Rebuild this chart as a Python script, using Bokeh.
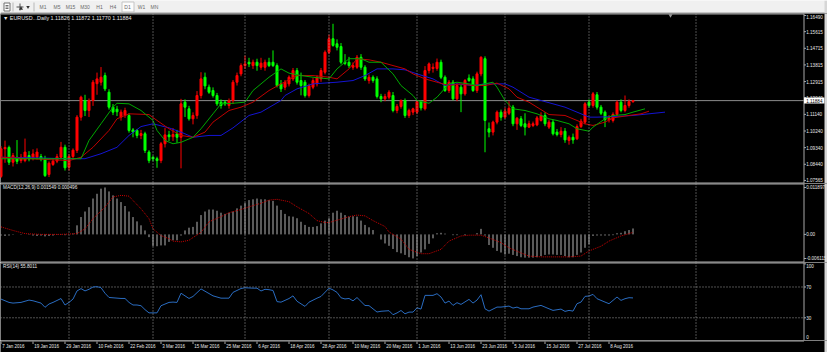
import numpy as np
from bokeh.plotting import figure
from bokeh.layouts import column
from bokeh.models import Range1d, Span
from bokeh.embed import file_html
from bokeh.resources import INLINE
from bokeh.core.properties import value

# ---------------- data ----------------
symbol_title = "\u25bc EURUSD...Daily  1.11826 1.11872 1.11770 1.11884"
macd_title = "MACD(12,26,9) 0.001549 0.000496"
rsi_title = "RSI(14) 55.8011"
timeframes = ["M1", "M5", "M15", "M30", "H1", "H4", "D1", "W1", "MN"]
timeframe_px = [42.5, 56.5, 70, 84.5, 99, 112.5, 127, 141, 154]

opens = [
    1.0778, 1.0928, 1.0935, 1.0855, 1.0882, 1.0864, 1.0864, 1.0891, 1.0879, 1.0882,
    1.0886, 1.0873, 1.0789, 1.0843, 1.0861, 1.0882, 1.0936, 1.0828, 1.0886, 1.0919,
    1.1099, 1.1189, 1.1135, 1.1189, 1.1280, 1.1288, 1.1324, 1.1234, 1.1153, 1.1142,
    1.1099, 1.1108, 1.1108, 1.1030, 1.1027, 1.1000, 1.1009, 1.0910, 1.0882, 1.0874,
    1.0864, 1.0955, 1.1003, 1.0993, 1.1009, 1.0990, 1.1180, 1.1144, 1.1090, 1.1108,
    1.1216, 1.1315, 1.1261, 1.1243, 1.1216, 1.1180, 1.1180, 1.1162, 1.1189, 1.1288,
    1.1333, 1.1378, 1.1396, 1.1378, 1.1396, 1.1369, 1.1369, 1.1396, 1.1396, 1.1378,
    1.1279, 1.1261, 1.1279, 1.1306, 1.1351, 1.1297, 1.1288, 1.1216, 1.1261, 1.1279,
    1.1306, 1.1342, 1.1450, 1.1523, 1.1496, 1.1481, 1.1396, 1.1396, 1.1369, 1.1369,
    1.1423, 1.1369, 1.1297, 1.1315, 1.1306, 1.1211, 1.1198, 1.1207, 1.1216, 1.1135,
    1.1157, 1.1189, 1.1108, 1.1126, 1.1126, 1.1183, 1.1144, 1.1351, 1.1362, 1.1362,
    1.1396, 1.1315, 1.1243, 1.1288, 1.1198, 1.1261, 1.1225, 1.1310, 1.1306, 1.1243,
    1.1333, 1.1415, 1.1036, 1.1018, 1.1072, 1.1126, 1.1099, 1.1120, 1.1153, 1.1063,
    1.1090, 1.1063, 1.1045, 1.1054, 1.1057, 1.1081, 1.1108, 1.1045, 1.1072, 1.1018,
    1.1005, 1.1023, 1.0973, 1.0990, 1.0982, 1.1048, 1.1072, 1.1180, 1.1162, 1.1220,
    1.1153, 1.1126, 1.1085, 1.1081, 1.1114, 1.1180, 1.1135, 1.1162, 1.11826,
]
highs = [
    1.0942, 1.0972, 1.0945, 1.0905, 1.0975, 1.0900, 1.0983, 1.0915, 1.0925, 1.0930,
    1.0900, 1.0890, 1.0860, 1.0875, 1.0900, 1.0965, 1.0950, 1.0900, 1.0930, 1.1110,
    1.1215, 1.1220, 1.1200, 1.1300, 1.1340, 1.1370, 1.1340, 1.1250, 1.1170, 1.1160,
    1.1140, 1.1150, 1.1120, 1.1040, 1.1035, 1.1030, 1.1020, 1.0920, 1.0890, 1.0885,
    1.0965, 1.1040, 1.1025, 1.1040, 1.1030, 1.1198, 1.1195, 1.1160, 1.1125, 1.1240,
    1.1342, 1.1340, 1.1275, 1.1260, 1.1230, 1.1195, 1.1190, 1.1200, 1.1300, 1.1340,
    1.1390, 1.1432, 1.1420, 1.1410, 1.1415, 1.1420, 1.1410, 1.1420, 1.1460, 1.1390,
    1.1300, 1.1300, 1.1325, 1.1365, 1.1365, 1.1340, 1.1300, 1.1280, 1.1310, 1.1325,
    1.1365, 1.1460, 1.1545, 1.1604, 1.1520, 1.1500, 1.1440, 1.1425, 1.1395, 1.1435,
    1.1440, 1.1380, 1.1330, 1.1325, 1.1320, 1.1225, 1.1225, 1.1245, 1.1235, 1.1170,
    1.1195, 1.1200, 1.1145, 1.1150, 1.1190, 1.1190, 1.1375, 1.1395, 1.1390, 1.1416,
    1.1410, 1.1325, 1.1300, 1.1300, 1.1285, 1.1275, 1.1305, 1.1330, 1.1320, 1.1345,
    1.1428, 1.1428, 1.1070, 1.1080, 1.1135, 1.1140, 1.1150, 1.1185, 1.1165, 1.1100,
    1.1105, 1.1120, 1.1080, 1.1075, 1.1105, 1.1125, 1.1125, 1.1085, 1.1085, 1.1035,
    1.1045, 1.1040, 1.1000, 1.1010, 1.1060, 1.1090, 1.1180, 1.1195, 1.1235, 1.1235,
    1.1165, 1.1135, 1.1110, 1.1125, 1.1190, 1.1195, 1.1216, 1.1195, 1.11884,
]
lows = [
    1.0770, 1.0852, 1.0840, 1.0832, 1.0845, 1.0850, 1.0855, 1.0860, 1.0865, 1.0870,
    1.0860, 1.0775, 1.0775, 1.0835, 1.0850, 1.0870, 1.0810, 1.0810, 1.0870, 1.0905,
    1.1080, 1.1105, 1.1100, 1.1160, 1.1220, 1.1270, 1.1240, 1.1140, 1.1110, 1.1105,
    1.1080, 1.1095, 1.1015, 1.0990, 1.0985, 1.0980, 1.0905, 1.0850, 1.0860, 1.0825,
    1.0850, 1.0935, 1.0970, 1.0970, 1.0960, 1.0822, 1.1100, 1.1080, 1.1060, 1.1090,
    1.1200, 1.1250, 1.1225, 1.1205, 1.1160, 1.1145, 1.1160, 1.1145, 1.1170, 1.1270,
    1.1320, 1.1360, 1.1370, 1.1360, 1.1350, 1.1355, 1.1350, 1.1370, 1.1370, 1.1260,
    1.1235, 1.1245, 1.1265, 1.1295, 1.1275, 1.1217, 1.1205, 1.1205, 1.1250, 1.1265,
    1.1290, 1.1330, 1.1440, 1.1480, 1.1460, 1.1385, 1.1380, 1.1365, 1.1355, 1.1360,
    1.1355, 1.1295, 1.1280, 1.1285, 1.1200, 1.1180, 1.1185, 1.1195, 1.1125, 1.1120,
    1.1145, 1.1095, 1.1095, 1.1110, 1.1115, 1.1135, 1.1135, 1.1335, 1.1340, 1.1350,
    1.1305, 1.1235, 1.1230, 1.1190, 1.1185, 1.1126, 1.1215, 1.1290, 1.1235, 1.1230,
    1.1320, 1.0909, 1.0990, 1.1000, 1.1060, 1.1080, 1.1090, 1.1110, 1.1050, 1.1030,
    1.1045, 1.1000, 1.1040, 1.1045, 1.1050, 1.1075, 1.1050, 1.1035, 1.1000, 1.0995,
    1.0990, 1.0960, 1.0950, 1.0955, 1.0975, 1.1040, 1.1060, 1.1150, 1.1150, 1.1140,
    1.1110, 1.1045, 1.1070, 1.1070, 1.1105, 1.1125, 1.1125, 1.1150, 1.11770,
]
closes = [
    1.0928, 1.0935, 1.0855, 1.0891, 1.0860, 1.0882, 1.0910, 1.0873, 1.0900, 1.0910,
    1.0872, 1.0783, 1.0850, 1.0861, 1.0885, 1.0936, 1.0825, 1.0886, 1.0920, 1.1099,
    1.1207, 1.1135, 1.1189, 1.1288, 1.1306, 1.1315, 1.1252, 1.1153, 1.1126, 1.1128,
    1.1126, 1.1135, 1.1027, 1.1018, 1.1000, 1.1010, 1.0919, 1.0864, 1.0873, 1.0864,
    1.0955, 1.1003, 1.0993, 1.1005, 1.0990, 1.1171, 1.1153, 1.1090, 1.1108, 1.1216,
    1.1306, 1.1268, 1.1234, 1.1216, 1.1171, 1.1162, 1.1171, 1.1189, 1.1288, 1.1324,
    1.1378, 1.1387, 1.1387, 1.1396, 1.1378, 1.1391, 1.1396, 1.1378, 1.1378, 1.1270,
    1.1252, 1.1288, 1.1315, 1.1351, 1.1288, 1.1270, 1.1216, 1.1270, 1.1297, 1.1315,
    1.1351, 1.1450, 1.1523, 1.1487, 1.1477, 1.1396, 1.1390, 1.1378, 1.1378, 1.1423,
    1.1369, 1.1306, 1.1315, 1.1297, 1.1211, 1.1198, 1.1211, 1.1234, 1.1135, 1.1157,
    1.1189, 1.1108, 1.1135, 1.1144, 1.1183, 1.1149, 1.1351, 1.1387, 1.1369, 1.1396,
    1.1315, 1.1243, 1.1288, 1.1198, 1.1270, 1.1225, 1.1297, 1.1297, 1.1243, 1.1333,
    1.1423, 1.1081, 1.1018, 1.1072, 1.1126, 1.1099, 1.1131, 1.1147, 1.1063, 1.1093,
    1.1054, 1.1045, 1.1063, 1.1063, 1.1095, 1.1108, 1.1063, 1.1072, 1.1009, 1.1005,
    1.1023, 1.0976, 1.0990, 1.0976, 1.1048, 1.1077, 1.1171, 1.1162, 1.1225, 1.1153,
    1.1120, 1.1085, 1.1095, 1.1114, 1.1180, 1.1135, 1.1162, 1.1183, 1.11884,
]
last_price = 1.11884
last_price_label = "1.11884"

# Alligator lines (bar index, price) - lips green, teeth red, jaw blue
lips_idx = [0, 20, 22, 25, 28, 29, 32, 35, 38, 39, 41, 43, 45, 48, 50, 53, 55, 58, 61, 63,
            67, 70, 72, 75, 78, 82, 84, 87, 90, 92, 95, 98, 100, 103, 104, 107, 109, 112, 114, 117,
            119, 123, 124, 126, 128, 131, 134, 137, 139, 142, 144, 147, 148, 151, 153, 156, 158, 161]
lips_val = [1.0874, 1.0874, 1.0973, 1.1063, 1.1153, 1.1174, 1.1171, 1.1135, 1.1081, 1.1027,
            1.0973, 1.0955, 1.0963, 1.0990, 1.1036, 1.1117, 1.1171, 1.1174, 1.1180, 1.1243,
            1.1315, 1.1360, 1.1337, 1.1324, 1.1315, 1.1306, 1.1360, 1.1415, 1.1415, 1.1396,
            1.1396, 1.1333, 1.1270, 1.1216, 1.1189, 1.1174, 1.1207, 1.1279, 1.1288, 1.1279,
            1.1270, 1.1288, 1.1261, 1.1189, 1.1144, 1.1135, 1.1117, 1.1090, 1.1081, 1.1063,
            1.1036, 1.1023, 1.1045, 1.1090, 1.1108, 1.1113, 1.1126, 1.1144]
teeth_idx = [0, 17, 20, 23, 27, 29, 32, 37, 39, 42, 45, 48, 51, 53, 57, 60, 63, 67, 70, 74,
             78, 82, 84, 87, 89, 92, 95, 98, 101, 103, 106, 109, 112, 115, 118, 121, 124, 127, 129, 132,
             134, 137, 141, 143, 146, 148, 151, 153, 157, 160, 162]
teeth_val = [1.0882, 1.0864, 1.0882, 1.0936, 1.1027, 1.1090, 1.1117, 1.1113, 1.1081, 1.1036,
             1.1000, 1.0990, 1.1018, 1.1072, 1.1135, 1.1153, 1.1180, 1.1243, 1.1279, 1.1324,
             1.1324, 1.1315, 1.1306, 1.1360, 1.1415, 1.1409, 1.1396, 1.1378, 1.1360, 1.1333,
             1.1306, 1.1288, 1.1270, 1.1279, 1.1270, 1.1270, 1.1283, 1.1252, 1.1207, 1.1180,
             1.1153, 1.1113, 1.1108, 1.1090, 1.1063, 1.1054, 1.1072, 1.1095, 1.1108, 1.1117,
             1.1131]
jaw_idx = [0, 8, 17, 21, 25, 29, 32, 35, 38, 42, 45, 48, 52, 55, 58, 62, 65, 70, 71, 74,
           78, 84, 88, 91, 94, 98, 101, 104, 108, 111, 114, 118, 121, 124, 126, 128, 132, 135, 138, 141,
           144, 147, 149, 153, 158, 166]
jaw_val = [1.0882, 1.0879, 1.0874, 1.0874, 1.0901, 1.0936, 1.1000, 1.1048, 1.1063, 1.1041,
           1.1018, 1.0990, 1.1000, 1.1000, 1.1041, 1.1108, 1.1126, 1.1189, 1.1216, 1.1252,
           1.1279, 1.1288, 1.1297, 1.1324, 1.1360, 1.1360, 1.1355, 1.1333, 1.1306, 1.1270,
           1.1279, 1.1270, 1.1279, 1.1279, 1.1279, 1.1261, 1.1207, 1.1189, 1.1171, 1.1153,
           1.1126, 1.1099, 1.1099, 1.1102, 1.1108, 1.1126]

# MACD histogram per bar, and signal line samples
macd_hist = [
    -0.0003, -0.0004, -0.0003, -0.0001, 0.0000, -0.0001, 0.0000, 0.0001, -0.0003, -0.0004,
    -0.0003, -0.0005, -0.0004, -0.0003, -0.0001, 0.0001, -0.0002, 0.0000, 0.0002, 0.0023,
    0.0044, 0.0058, 0.0069, 0.0091, 0.0103, 0.0116, 0.0119, 0.0109, 0.0099, 0.0091,
    0.0082, 0.0072, 0.0058, 0.0044, 0.0033, 0.0023, 0.0010, -0.0007, -0.0030, -0.0030,
    -0.0028, -0.0028, -0.0019, -0.0015, -0.0015, -0.0003, 0.0010, 0.0017, 0.0019, 0.0032,
    0.0049, 0.0058, 0.0063, 0.0063, 0.0060, 0.0055, 0.0052, 0.0055, 0.0058, 0.0066,
    0.0073, 0.0080, 0.0087, 0.0089, 0.0091, 0.0089, 0.0089, 0.0087, 0.0085, 0.0073,
    0.0062, 0.0052, 0.0046, 0.0045, 0.0041, 0.0032, 0.0024, 0.0019, 0.0019, 0.0021,
    0.0028, 0.0035, 0.0041, 0.0055, 0.0060, 0.0055, 0.0049, 0.0045, 0.0046, 0.0045,
    0.0035, 0.0024, 0.0018, 0.0011, 0.0000, -0.0013, -0.0023, -0.0029, -0.0037, -0.0045,
    -0.0048, -0.0052, -0.0058, -0.0061, -0.0055, -0.0046, -0.0038, -0.0024, -0.0010, 0.0003,
    0.0004, 0.0002, 0.0000, -0.0002, -0.0002, 0.0000, -0.0002, 0.0000, 0.0000, 0.0003,
    0.0014, -0.0003, -0.0027, -0.0034, -0.0042, -0.0046, -0.0051, -0.0049, -0.0052, -0.0055,
    -0.0058, -0.0059, -0.0059, -0.0059, -0.0058, -0.0055, -0.0052, -0.0051, -0.0051, -0.0052,
    -0.0052, -0.0055, -0.0058, -0.0058, -0.0052, -0.0046, -0.0034, -0.0025, -0.0004, -0.0003,
    -0.0003, -0.0003, -0.0003, -0.0002, 0.0003, 0.0004, 0.0008, 0.0011, 0.0015,
]
signal_idx = [0, 3, 6, 10, 15, 19, 21, 23, 26, 28, 30, 32, 33, 35, 37, 38, 40, 42, 43, 45,
              47, 48, 50, 52, 55, 57, 60, 62, 65, 67, 69, 72, 74, 77, 79, 81, 82, 84, 87, 89,
              91, 93, 96, 97, 100, 102, 105, 107, 110, 112, 115, 117, 120, 122, 125, 127, 130, 132, 135, 137,
              140, 142, 145, 147, 150, 152, 155, 158]
signal_val = [0.0019, 0.0010, 0.0002, 0.0000, 0.0000, 0.0002, 0.0014, 0.0040, 0.0069, 0.0095,
              0.0099, 0.0097, 0.0086, 0.0065, 0.0040, 0.0014, -0.0003, -0.0011, -0.0017, -0.0019,
              -0.0015, -0.0008, 0.0005, 0.0032, 0.0045, 0.0055, 0.0063, 0.0070, 0.0079, 0.0087,
              0.0089, 0.0083, 0.0070, 0.0053, 0.0035, 0.0030, 0.0030, 0.0036, 0.0045, 0.0049,
              0.0047, 0.0035, 0.0020, 0.0006, -0.0012, -0.0038, -0.0049, -0.0049, -0.0038, -0.0017,
              -0.0004, -0.0002, -0.0002, -0.0009, -0.0021, -0.0034, -0.0047, -0.0055, -0.0057, -0.0057,
              -0.0057, -0.0057, -0.0055, -0.0042, -0.0030, -0.0017, -0.0004, 0.0005]

# RSI(14) samples
rsi_idx = [0, 2, 3, 5, 7, 8, 10, 11, 12, 13, 15, 16, 17, 18, 19, 20, 21, 22, 23, 24,
           25, 26, 27, 30, 31, 32, 33, 34, 35, 36, 37, 39, 40, 42, 43, 44, 45, 46, 47, 48,
           50, 52, 53, 55, 57, 58, 60, 61, 63, 64, 65, 66, 67, 68, 69, 70, 72, 73, 74, 76,
           77, 79, 80, 82, 83, 84, 85, 86, 87, 88, 89, 91, 92, 94, 95, 97, 98, 99, 100, 101,
           102, 103, 104, 105, 106, 108, 109, 110, 111, 112, 113, 114, 115, 117, 118, 119, 120, 121, 122, 124,
           125, 127, 128, 129, 130, 132, 133, 135, 136, 137, 138, 140, 141, 142, 143, 144, 145, 146, 147, 148,
           149, 151, 152, 153, 154, 155, 156, 157, 158]
rsi_val = [54.3, 50.0, 49.1, 50.0, 53.0, 52.1, 49.1, 43.6, 47.9, 50.0, 55.0, 46.6, 50.0, 54.3, 64.9, 67.9, 64.9, 67.0, 70.0, 70.4,
           69.1, 61.9, 56.4, 55.1, 55.1, 50.0, 46.6, 46.6, 45.7, 40.6, 36.4, 36.4, 45.7, 50.0, 50.4, 50.0, 61.9, 58.5, 55.1, 57.7,
           67.5, 61.5, 58.5, 55.5, 55.5, 63.0, 68.0, 69.0, 68.5, 68.5, 64.8, 67.0, 66.5, 65.5, 51.0, 50.3, 55.0, 58.5, 51.5, 44.8,
           50.3, 55.5, 57.7, 68.5, 66.2, 63.0, 56.0, 54.5, 55.1, 52.0, 56.3, 46.0, 45.8, 37.5, 38.5, 39.2, 34.0, 36.3, 39.5, 35.2,
           37.4, 37.4, 43.0, 41.3, 59.1, 59.1, 61.3, 57.0, 49.1, 51.7, 46.1, 49.6, 47.4, 53.9, 49.1, 53.0, 60.0, 41.7, 38.7, 43.9,
           43.9, 45.2, 42.6, 43.9, 41.7, 41.7, 43.9, 46.1, 43.9, 41.7, 39.6, 41.3, 38.3, 39.6, 38.7, 48.3, 50.4, 57.8, 58.3, 60.4,
           54.8, 50.4, 48.3, 52.6, 57.0, 52.6, 54.8, 56.1, 55.8]
rsi_levels = [70, 30]

# axes
price_ticks = [1.16490, 1.15615, 1.14715, 1.13815, 1.12915, 1.12040, 1.11140, 1.10240, 1.09340, 1.08440, 1.07565]
price_tick_labels = ["1.16490", "1.15615", "1.14715", "1.13815", "1.12915", "1.12040",
                     "1.11140", "1.10240", "1.09340", "1.08440", "1.07565"]
macd_ticks = [0.011897, 0.0, -0.006115]
macd_tick_labels = ["0.011897", "0.00", "-0.006115"]
rsi_ticks = [100, 70, 30, 0]
rsi_tick_labels = ["100", "70", "30", "0"]
date_idx = [0, 8, 16, 24, 32, 40, 48, 56, 64, 72, 80, 88, 96, 104, 112, 120, 128, 136, 144, 152]
date_labels = ["7 Jan 2016", "19 Jan 2016", "29 Jan 2016", "10 Feb 2016", "22 Feb 2016", "3 Mar 2016",
               "15 Mar 2016", "25 Mar 2016", "6 Apr 2016", "18 Apr 2016", "28 Apr 2016", "10 May 2016",
               "20 May 2016", "1 Jun 2016", "13 Jun 2016", "23 Jun 2016", "5 Jul 2016", "15 Jul 2016",
               "27 Jul 2016", "8 Aug 2016"]
month_grid_idx = [17, 38, 61, 82, 104, 126, 147, 173.75]

# ---------------- layout / style ----------------
W = 827
BAR_PX = 4.0
X0 = -0.125
X1 = X0 + W / BAR_PX
AXIS_X = X0 + 803.5 / BAR_PX
STRIP_X = X0 + 824 / BAR_PX
FONT = value("Liberation Sans")
FS_AXIS = "4.6px"
FS_DATE = "4.5px"
FS_SUB = "4.7px"
FS_MAIN = "5.4px"
GRID_C = "#a0a0a0"
FRAME_C = "#a8a8a8"
LABEL_C = "#e8e8e8"
UP_C = "#ff0000"
DN_C = "#00ff00"


def make_panel(h, lo, hi):
    p = figure(width=W, height=h, x_range=Range1d(X0, X1), y_range=Range1d(lo, hi),
               x_axis_type=None, y_axis_type=None, min_border=0,
               toolbar_location=None, output_backend="svg",
               background_fill_color="black", border_fill_color="black",
               outline_line_color=None)
    return p


def decorate(p, lo, hi, h, top=True, bottom=True, grid=True):
    px = (hi - lo) / h
    p.quad(left=[STRIP_X], right=[X1], bottom=[lo], top=[hi], fill_color="#d6d6d6", line_color=None)
    if grid:
        for g in month_grid_idx:
            p.add_layout(Span(location=g, dimension="height", line_color=GRID_C,
                              line_dash="1 2", line_width=1))
    p.segment(x0=[AXIS_X], y0=[lo], x1=[AXIS_X], y1=[hi], line_color=FRAME_C, line_width=1)
    if top:
        p.segment(x0=[X0], y0=[hi - 0.5 * px], x1=[AXIS_X], y1=[hi - 0.5 * px],
                  line_color=FRAME_C, line_width=1)
    if bottom:
        p.segment(x0=[X0], y0=[lo + 0.5 * px], x1=[AXIS_X], y1=[lo + 0.5 * px],
                  line_color=FRAME_C, line_width=1)
    return px


def right_axis(p, ticks, labels, lo, hi, px):
    n = len(ticks)
    p.segment(x0=[AXIS_X] * n, y0=ticks, x1=[AXIS_X + 0.5] * n, y1=ticks, line_color=FRAME_C, line_width=1)
    for t, lab in zip(ticks, labels):
        # labels at the panel edges are nudged inside the panel (as the terminal does)
        y = min(max(t, lo + 3.2 * px), hi - 3.2 * px)
        p.text(x=[AXIS_X + 0.55], y=[y], text=[lab], text_font=FONT, text_font_size=FS_AXIS,
               text_color=LABEL_C, text_baseline="middle", text_align="left")


# ---- toolbar strip ----
tb = figure(width=W, height=13, x_range=Range1d(0, W), y_range=Range1d(0, 13),
            x_axis_type=None, y_axis_type=None, min_border=0, toolbar_location=None,
            output_backend="svg", background_fill_color="#f0f0f0", border_fill_color="#f0f0f0",
            outline_line_color=None)
tb.segment(x0=[0], y0=[0.5], x1=[W], y1=[0.5], line_color="#9a9a9a", line_width=1)
tb.quad(left=[3.5], right=[9.5], bottom=[2.5], top=[10.5], fill_color="#ffffff", line_color="#707070")
tb.segment(x0=[5, 5, 5], y0=[8, 6.5, 5], x1=[8, 8, 8], y1=[8, 6.5, 5], line_color="#707070")
tb.segment(x0=[12.5, 33.5], y0=[2, 2], x1=[12.5, 33.5], y1=[11, 11], line_color="#b8b8b8")
tb.segment(x0=[16, 19.5], y0=[6.5, 3], x1=[23, 19.5], y1=[6.5, 10], line_color="#505050")
tb.scatter(x=[20.5], y=[5], marker="triangle", size=4, fill_color="#303030", line_color=None)
tb.scatter(x=[27.5], y=[6.5], marker="inverted_triangle", size=3.5, fill_color="#303030", line_color=None)
tb.quad(left=[121.5], right=[133.5], bottom=[1.5], top=[11.5], fill_color="#fcfcfc", line_color="#c4c4c4")
tb.text(x=timeframe_px, y=[6.5] * len(timeframes), text=timeframes, text_font=FONT,
        text_font_size="5px", text_color="#6a6a6a", text_align="center", text_baseline="middle")
tb.quad(left=[824], right=[W], bottom=[0], top=[13], fill_color="#d6d6d6", line_color=None)

# ---- main price panel ----
PRICE_LO, PRICE_HI, MAIN_H = 1.07400, 1.16597, 170
pm = make_panel(MAIN_H, PRICE_LO, PRICE_HI)
ppx = decorate(pm, PRICE_LO, PRICE_HI, MAIN_H)
pm.segment(x0=[X0], y0=[last_price], x1=[AXIS_X], y1=[last_price], line_color="#8c8c8c", line_width=1)

idx = np.arange(len(closes))
o = np.array(opens)
c = np.array(closes)
col = [UP_C if cc >= oo else DN_C for oo, cc in zip(o, c)]
pm.segment(x0=idx, y0=lows, x1=idx, y1=highs, line_color=col, line_width=1)
pm.vbar(x=idx, width=0.5, top=np.maximum(o, c), bottom=np.minimum(o, c),
        fill_color=col, line_color=col, line_width=1)

pm.line(jaw_idx, jaw_val, line_color="#1414d2", line_width=1)
pm.line(teeth_idx, teeth_val, line_color="#c00000", line_width=1)
pm.line(lips_idx, lips_val, line_color="#00a800", line_width=1)

right_axis(pm, price_ticks, price_tick_labels, PRICE_LO, PRICE_HI, ppx)
pm.quad(left=[AXIS_X], right=[AXIS_X + 5.1], bottom=[last_price - 3.0 * ppx],
        top=[last_price + 3.0 * ppx], fill_color="#ffffff", line_color=None)
pm.text(x=[AXIS_X + 0.55], y=[last_price], text=[last_price_label], text_font=FONT, text_font_size=FS_AXIS,
        text_color="#000000", text_baseline="middle", text_align="left")
pm.text(x=[X0 + 2.5 / BAR_PX], y=[PRICE_HI - 4.5 * ppx], text=[symbol_title], text_font=FONT,
        text_font_size=FS_MAIN, text_color=LABEL_C, text_baseline="middle", text_align="left")
pm.scatter(x=[X0 + 670 / BAR_PX], y=[PRICE_HI - 2.0 * ppx], marker="inverted_triangle", size=4,
           fill_color="#9a9a9a", line_color=None)

# ---- MACD panel ----
MACD_LO, MACD_HI, MACD_H = -0.00713, 0.01291, 79
pmacd = make_panel(MACD_H, MACD_LO, MACD_HI)
mpx = decorate(pmacd, MACD_LO, MACD_HI, MACD_H)
pmacd.segment(x0=idx, y0=[0.0] * len(idx), x1=idx, y1=macd_hist, line_color="#b4b4b4", line_width=1)
pmacd.line(signal_idx, signal_val, line_color="#c80000", line_width=1, line_dash="1 1")
right_axis(pmacd, macd_ticks, macd_tick_labels, MACD_LO, MACD_HI, mpx)
pmacd.text(x=[X0 + 2.5 / BAR_PX], y=[MACD_HI - 4 * mpx], text=[macd_title], text_font=FONT,
           text_font_size=FS_SUB, text_color=LABEL_C, text_baseline="middle", text_align="left")

# ---- RSI panel ----
RSI_LO, RSI_HI, RSI_H = 0.52, 101.8, 78
prsi = make_panel(RSI_H, RSI_LO, RSI_HI)
rpx = decorate(prsi, RSI_LO, RSI_HI, RSI_H, bottom=False)
for lvl in rsi_levels:
    prsi.segment(x0=[X0], y0=[lvl], x1=[AXIS_X], y1=[lvl], line_color=GRID_C, line_dash="1 2", line_width=1)
prsi.line(rsi_idx, rsi_val, line_color="#2a6cc0", line_width=1)
right_axis(prsi, rsi_ticks, rsi_tick_labels, RSI_LO, RSI_HI, rpx)
prsi.text(x=[X0 + 2.5 / BAR_PX], y=[RSI_HI - 4 * rpx], text=[rsi_title], text_font=FONT,
          text_font_size=FS_SUB, text_color=LABEL_C, text_baseline="middle", text_align="left")

# ---- date strip ----
pd_ = make_panel(12, 0, 12)
pd_.quad(left=[STRIP_X], right=[X1], bottom=[0], top=[12], fill_color="#d6d6d6", line_color=None)
pd_.segment(x0=[X0], y0=[11.5], x1=[AXIS_X], y1=[11.5], line_color=FRAME_C, line_width=1)
nd = len(date_idx)
pd_.segment(x0=date_idx, y0=[11] * nd, x1=date_idx, y1=[8.5] * nd, line_color=FRAME_C, line_width=1)
pd_.text(x=[d + 0.3 for d in date_idx], y=[6.3] * nd, text=date_labels, text_font=FONT,
         text_font_size=FS_DATE, text_color=LABEL_C, text_baseline="middle", text_align="left")

layout = column(tb, pm, pmacd, prsi, pd_, spacing=0)
open("out.html", "w").write(file_html(layout, INLINE, title="EURUSD Daily"))
